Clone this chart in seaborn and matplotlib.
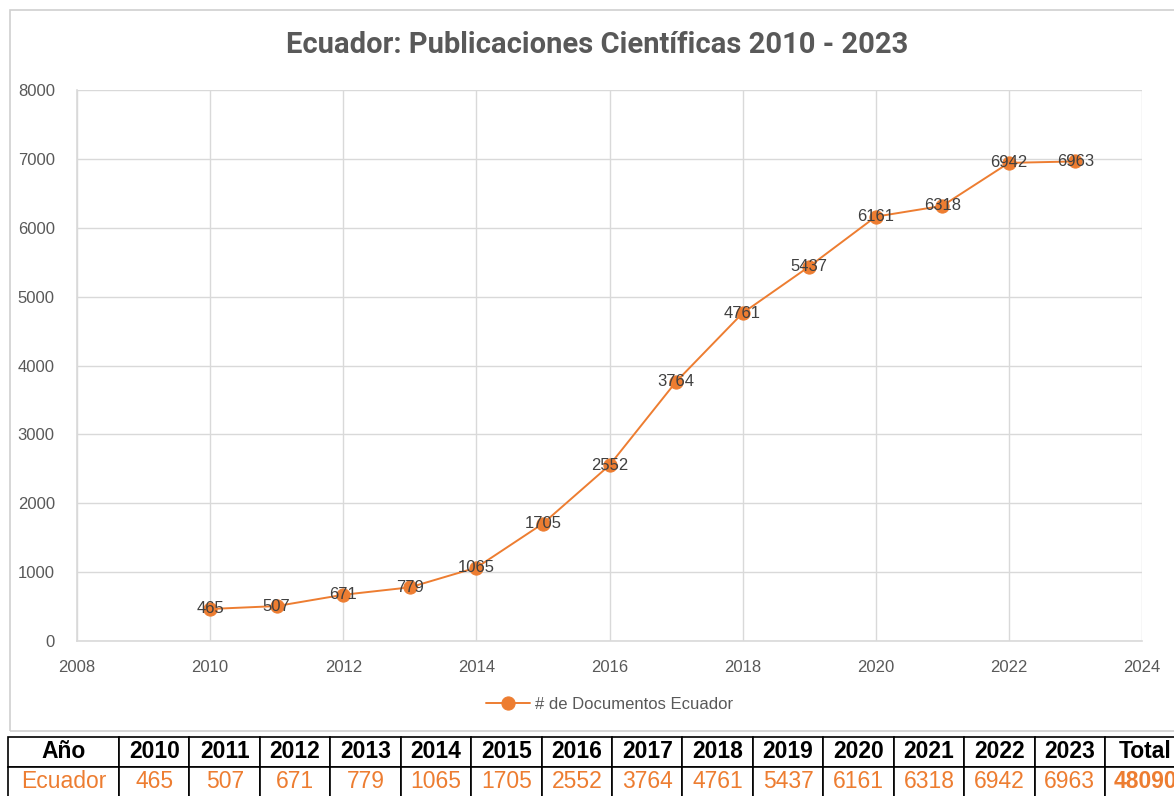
import matplotlib
matplotlib.use("Agg")
import matplotlib.pyplot as plt
from matplotlib.patches import Rectangle
import pandas as pd
import seaborn as sns

years = [2010, 2011, 2012, 2013, 2014, 2015, 2016, 2017, 2018, 2019, 2020, 2021, 2022, 2023]
documents = [465, 507, 671, 779, 1065, 1705, 2552, 3764, 4761, 5437, 6161, 6318, 6942, 6963]
series_name = "# de Documentos Ecuador"
country = "Ecuador"
title = "Ecuador: Publicaciones Científicas 2010 - 2023"

orange = "#ED7D31"
grey_text = "#595959"
grid_grey = "#D9D9D9"
body_font = ["Liberation Sans", "DejaVu Sans"]

W, H = 1174, 796

sns.set_theme(style="white")
plt.rcParams["font.family"] = body_font

df = pd.DataFrame({"year": years, "docs": documents})

fig = plt.figure(figsize=(W / 100, H / 100), dpi=100)
fig.patch.set_facecolor("white")

# outer chart border
fig.patches.append(Rectangle((10 / W, 1 - 731 / H), 1.2, 721 / H, transform=fig.transFigure,
                             fill=False, edgecolor="#D0D0D0", linewidth=1.2))

ax = fig.add_axes([77 / W, 1 - 641 / H, (1142 - 77) / W, (641 - 90) / H])

sns.lineplot(data=df, x="year", y="docs", ax=ax, color=orange, linewidth=1.4,
             marker="o", markersize=9.5, markeredgecolor=orange, label=series_name)

for yr, val in zip(years, documents):
    ax.text(yr, val, str(val), ha="center", va="center", fontsize=12,
            color="#404040", zorder=5)

ax.set_xlim(2008, 2024)
ax.set_ylim(0, 8000)
ax.set_xticks(range(2008, 2025, 2))
ax.set_yticks(range(0, 8001, 1000))
ax.set_xlabel("")
ax.set_ylabel("")
ax.grid(True, color=grid_grey, linewidth=1)
ax.set_axisbelow(True)
for side in ["top", "right"]:
    ax.spines[side].set_visible(False)
for side in ["left", "bottom"]:
    ax.spines[side].set_color(grid_grey)
    ax.spines[side].set_linewidth(1.2)
ax.tick_params(axis="both", colors=grey_text, labelsize=12, length=0)
ax.tick_params(axis="x", pad=14)
ax.tick_params(axis="y", pad=16)

leg = ax.legend(loc="upper center", bbox_to_anchor=(0.5, -0.075), frameon=False,
                fontsize=12, handlelength=2.6, handletextpad=0.3, markerscale=1.0)
for t in leg.get_texts():
    t.set_color(grey_text)

fig.text(597 / W, 1 - 45 / H, title, ha="center", va="center", fontsize=21,
         fontweight="bold", color=grey_text, family=["Roboto", "DejaVu Sans"])

# summary table under the chart
tab_ax = fig.add_axes([8 / W, 1 - 797 / H, (1186 - 8) / W, 60 / H])
tab_ax.axis("off")
header = ["Año"] + [str(y) for y in years] + ["Total"]
row = [country] + [str(v) for v in documents] + [str(sum(documents))]
widths = [111] + [70.4] * len(years) + [81]
total_w = sum(widths)
tbl = tab_ax.table(cellText=[header, row], colWidths=[w / total_w for w in widths],
                   bbox=[0, 0, 1, 1], cellLoc="center")
tbl.auto_set_font_size(False)
for (r, c), cell in tbl.get_celld().items():
    cell.set_edgecolor("#000000")
    cell.set_linewidth(1.2)
    txt = cell.get_text()
    txt.set_fontsize(16.5)
    if r == 0:
        txt.set_color("#000000")
        txt.set_fontweight("bold")
    else:
        txt.set_color(orange)
        if c == len(header) - 1:
            txt.set_fontweight("bold")

fig.savefig("out.png", dpi=100)
